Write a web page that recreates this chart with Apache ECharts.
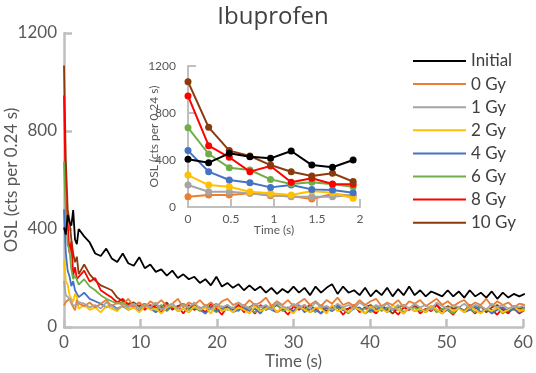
<!DOCTYPE html>
<html><head><meta charset="utf-8">
<script src="https://cdn.jsdelivr.net/npm/echarts@6/dist/echarts.min.js"></script>
<style>html,body{margin:0;padding:0;background:#fff}#c{width:536px;height:373px}</style>
</head><body><div id="c"></div>
<script>
// ---- data ----
const titleText = 'Ibuprofen';
const seriesNames = ['Initial', '0 Gy', '1 Gy', '2 Gy', '4 Gy', '6 Gy', '8 Gy', '10 Gy'];
const seriesColors = ['#000000', '#ED7D31', '#A5A5A5', '#FFC000', '#4472C4', '#70AD47', '#FF0000', '#8B3A0E'];
// first 9 channels (0.24 s) as in the inset, then sampled every 0.72 s
const earlyTimes = [0, 0.24, 0.48, 0.72, 0.96, 1.2, 1.44, 1.68, 1.92];
const tailStart = 2.64, tailStep = 0.72, tailCount = 81;

const initialVals = [406,377,457,428,414,477,357,338,400,
 370,345,300,290,320,280,265,300,260,250,
 285,240,255,225,235,210,230,200,215,195,
 205,180,195,170,205,165,180,160,175,150,
 170,150,165,140,160,135,155,140,165,140,
 160,130,165,140,160,175,135,165,140,150,
 130,160,125,150,130,160,125,155,130,165,
 130,150,125,145,135,125,150,125,145,120,
 150,125,140,120,145,115,140,120,135,125,135];
const gy0Vals = [88,102,102,116,96,94,68,111,96,
 85,100,80,95,110,85,100,90,115,85,
 100,80,105,90,110,85,95,115,80,100,
 90,110,85,100,80,105,115,90,100,85,
 110,90,100,120,85,105,90,110,85,100,
 115,90,105,85,110,95,120,90,100,85,
 110,90,105,115,85,100,90,110,80,105,
 95,110,85,100,115,90,105,85,100,110,
 85,100,90,115,85,105,90,100,80,95,90];
const gy1Vals = [187,130,130,116,102,88,88,88,102,
 95,80,90,75,100,85,70,90,80,95,
 75,90,80,100,70,85,95,75,90,80,
 100,75,85,70,95,80,90,75,100,85,
 75,95,80,90,70,100,85,75,95,80,
 90,75,100,80,85,70,95,80,90,75,
 100,85,75,90,80,95,70,85,90,75,
 95,80,90,70,100,85,75,90,80,95,
 75,90,85,70,95,80,90,75,85,80,90];
const gy2Vals = [272,187,173,130,116,102,136,122,74,
 90,70,80,60,85,75,65,90,70,80,
 60,85,70,75,55,80,90,65,75,60,
 85,70,80,55,90,65,75,60,80,70,
 55,85,65,75,90,60,80,70,55,85,
 70,60,80,75,55,90,65,75,60,80,
 70,55,85,65,75,60,90,70,55,80,
 65,75,60,85,70,55,80,65,75,60,
 85,70,55,75,65,80,60,70,85,65,70];
const gy4Vals = [480,301,230,207,167,187,150,145,122,
 140,115,105,95,80,90,75,85,70,80,
 65,85,75,60,80,70,90,65,75,60,
 85,70,55,80,65,75,90,60,70,80,
 65,75,55,85,70,60,80,75,65,90,
 60,75,70,55,80,65,85,70,60,75,
 80,55,70,65,85,60,75,70,55,80,
 65,75,60,85,70,55,75,65,80,60,
 70,85,60,75,55,70,80,65,75,60,70];
const gy6Vals = [675,451,335,315,235,196,210,193,173,
 195,165,150,130,115,105,95,100,85,90,
 75,95,80,70,90,65,85,75,95,70,
 80,65,90,75,60,85,70,80,65,90,
 75,60,85,70,80,95,65,75,60,85,
 70,80,60,90,75,65,80,70,55,85,
 70,75,60,85,65,80,70,90,60,75,
 80,65,70,85,60,75,70,55,80,65,
 75,60,85,70,65,80,55,75,70,65,80];
const gy8Vals = [945,522,423,301,349,210,244,196,193,
 230,185,200,150,135,120,100,115,90,85,
 100,70,90,80,60,95,75,85,55,90,
 70,80,60,95,75,50,85,70,90,60,
 80,55,90,70,85,60,75,50,85,70,
 90,60,75,55,85,70,80,50,75,90,
 60,80,70,55,85,65,75,50,80,70,
 85,55,75,65,90,60,70,50,80,65,
 75,55,85,65,70,50,80,60,75,55,70];
const gy10Vals = [1067,678,480,434,357,300,264,287,216,
 255,215,190,170,160,150,120,105,95,100,
 85,95,75,90,80,100,70,85,95,75,
 90,70,85,80,95,65,85,75,90,70,
 80,95,65,85,75,90,70,80,60,85,
 75,90,70,85,65,80,90,70,75,85,
 65,80,90,70,85,75,55,80,90,70,
 85,75,60,80,90,70,85,75,80,65,
 90,75,85,60,80,90,70,55,85,75,80];

const mainXTicks = { min: 0, max: 60, interval: 10 };
const mainYTicks = { min: 0, max: 1200, interval: 400 };
const insetXTicks = { min: 0, max: 2, interval: 0.5 };
const insetYTicks = { min: 0, max: 1200, interval: 400 };

// ---- build ----
const allValues = [initialVals, gy0Vals, gy1Vals, gy2Vals, gy4Vals, gy6Vals, gy8Vals, gy10Vals];
const times = earlyTimes.slice();
for (let k = 0; k < tailCount; k++) times.push(+(tailStart + k * tailStep).toFixed(2));

const FONT = 'Lato';
const txt = '#595959';
const axisGray = '#BFBFBF';
const plain = v => String(v);

function pairs(vals, n) {
  const out = [];
  const m = Math.min(n, vals.length, times.length);
  for (let i = 0; i < m; i++) out.push([times[i], vals[i]]);
  return out;
}

const drawOrder = [7, 6, 5, 4, 3, 1, 2, 0];
const series = [];
drawOrder.forEach((idx, k) => {
  series.push({
    name: seriesNames[idx], type: 'line', xAxisIndex: 0, yAxisIndex: 0,
    data: pairs(allValues[idx], times.length), showSymbol: false, symbol: 'none',
    lineStyle: { color: seriesColors[idx], width: 1.8 }, itemStyle: { color: seriesColors[idx] },
    z: 2 + k * 0.01, clip: true
  });
});
[1, 2, 3, 4, 5, 6, 7, 0].forEach((idx, k) => {
  series.push({
    name: seriesNames[idx], type: 'line', xAxisIndex: 1, yAxisIndex: 1,
    data: pairs(allValues[idx], earlyTimes.length), symbol: 'circle', symbolSize: 7, showSymbol: true,
    lineStyle: { color: seriesColors[idx], width: 2 }, itemStyle: { color: seriesColors[idx] },
    z: 5 + k * 0.01
  });
});

const chart = echarts.init(document.getElementById('c'), null, { renderer: 'canvas' });
chart.setOption({
  animation: false,
  backgroundColor: '#fff',
  textStyle: { fontFamily: FONT },
  title: { text: titleText, left: 268, top: 0, textAlign: 'center',
    textStyle: { fontFamily: 'Open Sans', fontSize: 24, fontWeight: 'normal', color: '#404040' } },
  legend: {
    data: seriesNames, orient: 'vertical', left: 408, top: 46,
    icon: 'rect', itemWidth: 53, itemHeight: 2, itemGap: 3.1,
    textStyle: { fontFamily: FONT, fontSize: 17, color: '#404040', lineHeight: 20 },
    selectedMode: false
  },
  grid: [
    { left: 64, right: 13, top: 33, bottom: 46, containLabel: false, outerBoundsMode: 'none' },
    { left: 188, top: 66, width: 172, height: 141, containLabel: false, outerBoundsMode: 'none' }
  ],
  xAxis: [
    { type: 'value', gridIndex: 0, min: mainXTicks.min, max: mainXTicks.max, interval: mainXTicks.interval,
      axisLine: { show: true, onZero: false, lineStyle: { color: axisGray, width: 2.5 } },
      axisTick: { show: true, inside: true, length: 8, lineStyle: { color: axisGray, width: 2.5 } },
      splitLine: { show: false },
      axisLabel: { fontFamily: FONT, fontSize: 17, color: txt, margin: 7, formatter: plain },
      name: 'Time (s)', nameLocation: 'middle', nameGap: 26, nameMoveOverlap: false,
      nameTextStyle: { fontFamily: FONT, fontSize: 17, color: txt } },
    { type: 'value', gridIndex: 1, min: insetXTicks.min, max: insetXTicks.max, interval: insetXTicks.interval,
      axisLine: { show: true, onZero: false, lineStyle: { color: axisGray, width: 2 } },
      axisTick: { show: true, inside: true, length: 8, lineStyle: { color: axisGray, width: 2 } },
      splitLine: { show: false },
      axisLabel: { fontFamily: FONT, fontSize: 12, color: txt, margin: 6, formatter: plain },
      name: 'Time (s)', nameLocation: 'middle', nameGap: 17, nameMoveOverlap: false,
      nameTextStyle: { fontFamily: FONT, fontSize: 12, color: txt } }
  ],
  yAxis: [
    { type: 'value', gridIndex: 0, min: mainYTicks.min, max: mainYTicks.max, interval: mainYTicks.interval,
      axisLine: { show: true, onZero: false, lineStyle: { color: axisGray, width: 2.5 } },
      axisTick: { show: true, inside: true, length: 8, lineStyle: { color: axisGray, width: 2.5 } },
      splitLine: { show: false },
      axisLabel: { fontFamily: FONT, fontSize: 17, color: txt, margin: 7, formatter: plain },
      name: 'OSL (cts per 0.24 s)', nameLocation: 'middle', nameGap: 44, nameMoveOverlap: false,
      nameTextStyle: { fontFamily: FONT, fontSize: 17, color: txt } },
    { type: 'value', gridIndex: 1, min: insetYTicks.min, max: insetYTicks.max, interval: insetYTicks.interval,
      axisLine: { show: true, onZero: false, lineStyle: { color: axisGray, width: 2 } },
      axisTick: { show: true, inside: true, length: 8, lineStyle: { color: axisGray, width: 2 } },
      splitLine: { show: false },
      axisLabel: { fontFamily: FONT, fontSize: 12, color: txt, margin: 12, formatter: plain },
      name: 'OSL (cts per 0.24 s)', nameLocation: 'middle', nameGap: 28, nameMoveOverlap: false,
      nameTextStyle: { fontFamily: FONT, fontSize: 12, color: txt } }
  ],
  series: series
});
</script></body></html>
